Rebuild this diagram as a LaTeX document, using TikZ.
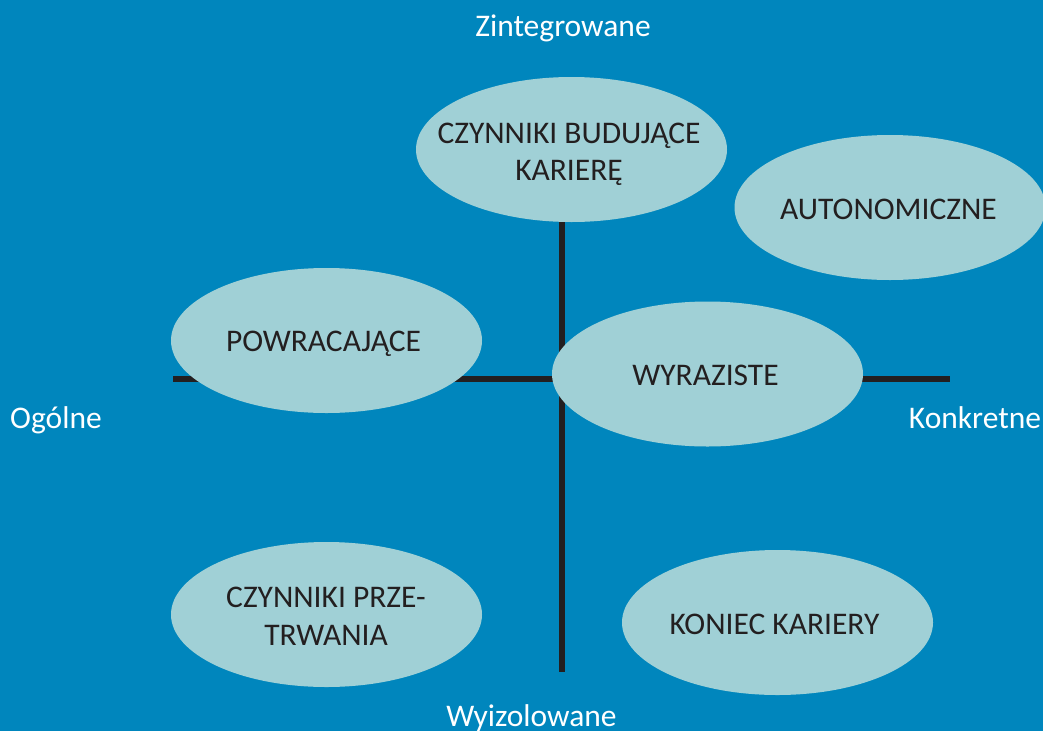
\documentclass[tikz,border=0pt]{standalone}
\usepackage{fontspec}
\setmainfont{Carlito}
\usetikzlibrary{shapes.geometric}
\definecolor{bgblue}{RGB}{0,134,189}
\definecolor{blobfill}{RGB}{160,208,214}
\definecolor{ink}{RGB}{35,31,32}
\begin{document}
\begin{tikzpicture}[x=1pt,y=-1pt,
  blob/.style={ellipse, fill=blobfill, minimum width=311pt, minimum height=145pt, inner sep=0pt},
  blobtext/.style={anchor=base, align=center, text=ink, font=\fontsize{31.5}{37.5}\selectfont, inner sep=0pt},
  axislabel/.style={anchor=base, text=white, font=\fontsize{31.5}{37.5}\selectfont, inner sep=0pt},
  axisline/.style={draw=ink, line width=5.5pt}]
  % background
  \fill[bgblue] (0,0) rectangle (1043,731);
  \useasboundingbox (0,0) rectangle (1043,731);

  % axis ends
  \coordinate (xl) at (173,379);
  \coordinate (xr) at (950,379);
  \coordinate (yt) at (562,222);
  \coordinate (yb) at (562,672);
  \draw[axisline] (xl) -- (xr);
  \draw[axisline] (yt) -- (yb);

  % axis labels
  \node[axislabel] (top)    at (563,36)   {Zintegrowane};
  \node[axislabel] (left)   at (56,428)   {Ogólne};
  \node[axislabel] (right)  at (975,428)  {Konkretne};
  \node[axislabel] (bottom) at (531.5,726) {Wyizolowane};

  % categories (two-line texts are placed by their last baseline)
  \node[blob] (bud) at (571.5,149.5) {};
  \node[blobtext] (budt) at (569,180.7) {CZYNNIKI BUDUJĄCE\\KARIERĘ};

  \node[blob] (aut) at (890,207.5) {};
  \node[blobtext] (autt) at (888.5,219) {AUTONOMICZNE};

  \node[blob] (pow) at (326.5,340.5) {};
  \node[blobtext] (powt) at (323.5,351.7) {POWRACAJĄCE};

  \node[blob] (wyr) at (707.5,374) {};
  \node[blobtext] (wyrt) at (705.5,385) {WYRAZISTE};

  \node[blob] (prz) at (326.5,614.5) {};
  \node[blobtext] (przt) at (326,645) {CZYNNIKI PRZE-\\TRWANIA};

  \node[blob] (kon) at (777.5,622.5) {};
  \node[blobtext] (kont) at (774.5,634) {KONIEC KARIERY};
\end{tikzpicture}
\end{document}
